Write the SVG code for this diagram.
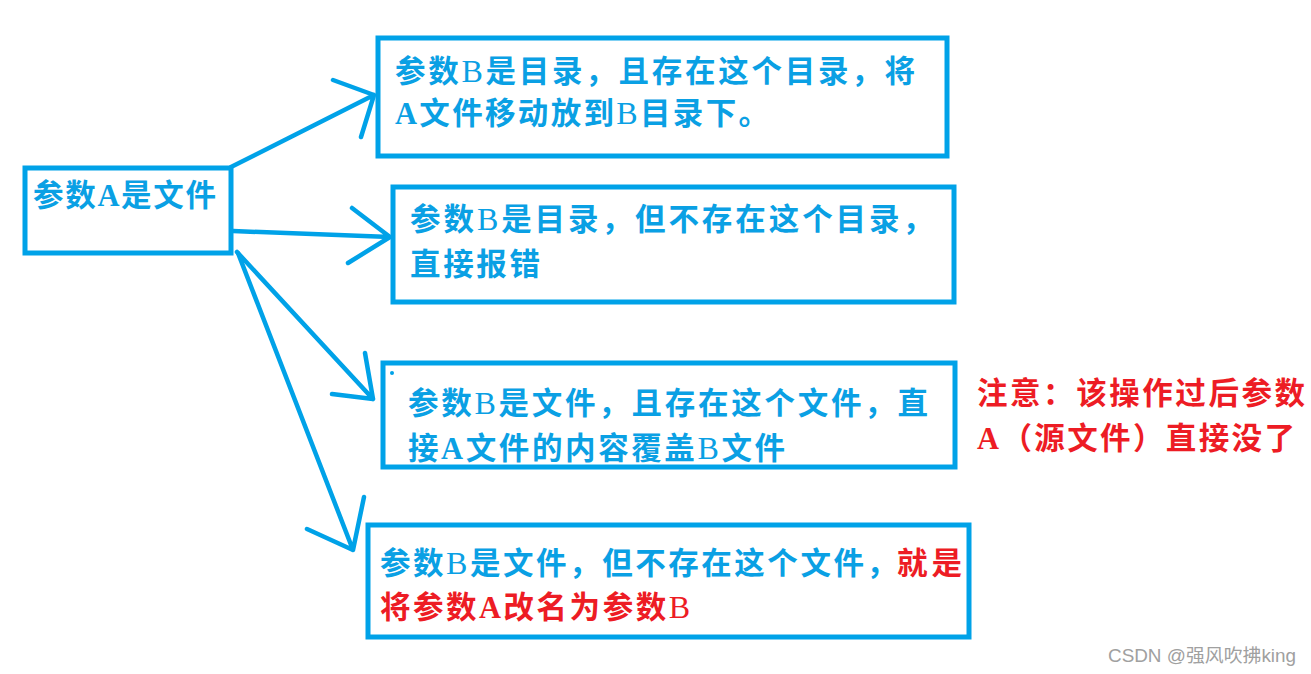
<svg xmlns="http://www.w3.org/2000/svg" width="1311" height="674" viewBox="0 0 1311 674">
<style>
.box{fill:#fff;stroke:#00a2e8;stroke-width:5}
.ln{fill:none;stroke:#00a2e8;stroke-width:4.5;stroke-linecap:round;stroke-linejoin:round}
.t{font-family:"Liberation Serif","Noto Sans CJK SC",serif;font-weight:bold;font-size:30.5px}
.n{font-weight:normal;font-size:32px}
.b{fill:#0aa0e4}
.r{fill:#ed1c24}
.wm{font-family:"Liberation Sans","Noto Sans CJK SC",sans-serif;font-size:18px;fill:#a0a0a0}
</style>
<rect width="1311" height="674" fill="#fff"/>
<g id="connectors">
<path class="ln" d="M231,167 L374,95 M333,80 L374,95 L361,137"/>
<path class="ln" d="M233,231 L390,237 M352,208 L390,237 L348,263"/>
<path class="ln" d="M237,252 L373,399 M365,353 L373,399 L332,394"/>
<path class="ln" d="M238,253 L353,550 M364,497 L353,550 L307,529"/>
</g>
<g id="nodeA">
<rect class="box" x="25" y="168" width="206" height="85"/>
<text class="t b" x="33" y="206" textLength="183" lengthAdjust="spacing">参数A是文件</text>
</g>
<g id="node1">
<rect class="box" x="378" y="38" width="569" height="118"/>
<text class="t b" x="395" y="82" textLength="520" lengthAdjust="spacing">参数<tspan class="n">B</tspan>是目录，且存在这个目录，将</text>
<text class="t b" x="395" y="124" textLength="374" lengthAdjust="spacing">A文件移动放到<tspan class="n">B</tspan>目录下。</text>
</g>
<g id="node2">
<rect class="box" x="393" y="187" width="561" height="115"/>
<text class="t b" x="410" y="230" textLength="523" lengthAdjust="spacing">参数<tspan class="n">B</tspan>是目录，但不存在这个目录，</text>
<text class="t b" x="410" y="275" textLength="130" lengthAdjust="spacing">直接报错</text>
</g>
<g id="node3">
<rect class="box" x="383" y="363" width="572" height="104"/>
<circle cx="392" cy="373" r="2" fill="#00a2e8"/>
<text class="t b" x="408" y="414" textLength="520" lengthAdjust="spacing">参数<tspan class="n">B</tspan>是文件，且存在这个文件，直</text>
<text class="t b" x="408" y="459" textLength="377" lengthAdjust="spacing">接A文件的内容覆盖<tspan class="n">B</tspan>文件</text>
</g>
<g id="node4">
<rect class="box" x="368" y="525" width="601" height="112"/>
<text class="t b" x="380" y="574" textLength="517" lengthAdjust="spacing">参数<tspan class="n">B</tspan>是文件，但不存在这个文件，</text>
<text class="t r" x="897" y="574" textLength="65" lengthAdjust="spacing">就是</text>
<text class="t r" x="380" y="618" textLength="310" lengthAdjust="spacing">将参数A改名为参数<tspan class="n">B</tspan></text>
</g>
<g id="note">
<text class="t r" x="977" y="404" textLength="328" lengthAdjust="spacing">注意：该操作过后参数</text>
<text class="t r" x="977" y="449" textLength="318" lengthAdjust="spacing">A（源文件）直接没了</text>
</g>
<text class="wm" x="1108" y="662" textLength="188" lengthAdjust="spacingAndGlyphs">CSDN @强风吹拂king</text>
</svg>
